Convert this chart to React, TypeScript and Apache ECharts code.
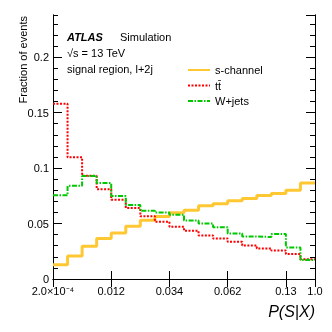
import React, { useEffect, useRef } from "react";
import * as echarts from "echarts";

const binCount = 18;
const xTickLabels: Record<number, string> = {
  0: "2.0×10⁻⁴",
  4: "0.012",
  8: "0.034",
  12: "0.062",
  16: "0.13",
  18: "1.0",
};
const yTickLabels = [0, 0.05, 0.1, 0.15, 0.2];
const seriesNames = ["s-channel", "tt̄", "W+jets"];
const sChannel = [0.0129, 0.0207, 0.0295, 0.0365, 0.0415, 0.0475, 0.053, 0.0563, 0.0598, 0.062, 0.066, 0.0678, 0.0705, 0.0726, 0.0752, 0.077, 0.08, 0.0865];
const ttbar = [0.158, 0.1098, 0.093, 0.081, 0.0715, 0.064, 0.0565, 0.0516, 0.047, 0.0435, 0.0393, 0.0366, 0.0336, 0.0303, 0.0276, 0.0258, 0.0225, 0.0177];
const wjets = [0.0754, 0.084, 0.0929, 0.0865, 0.0748, 0.0668, 0.0616, 0.06, 0.058, 0.0528, 0.05, 0.0467, 0.041, 0.0384, 0.0378, 0.0405, 0.0285, 0.0171];

const FONT = "'Liberation Sans', Arial, Helvetica, sans-serif";
const Y_MAX = 0.238;

function toSteps(vals: number[]) {
  const pts: number[][] = vals.map((v, i) => [i, v]);
  pts.push([binCount, vals[vals.length - 1]]);
  return pts;
}

export default function App() {
  const ref = useRef<HTMLDivElement>(null);
  useEffect(() => {
    if (!ref.current) return;
    const chart = echarts.init(ref.current, null, { renderer: "svg" });
    const axisLine = { show: true, lineStyle: { color: "#000", width: 1 } };
    const baseY = { type: "value", min: 0, max: Y_MAX, splitLine: { show: false }, axisLine };
    const yLabelFmt = (v: number) => {
      const hit = yTickLabels.find((t) => Math.abs(t - v) < 1e-6);
      return hit === undefined ? "" : String(hit);
    };
    chart.setOption({
      animation: false,
      grid: { left: 53, right: 17, top: 15, bottom: 53, containLabel: false },
      xAxis: [
        {
          type: "value", min: 0, max: binCount, interval: 4, position: "bottom",
          axisLine, splitLine: { show: false },
          axisTick: { inside: true, length: 8, lineStyle: { color: "#000" } },
          axisLabel: {
            margin: 6, fontSize: 11, color: "#000", fontFamily: FONT,
            showMinLabel: true, showMaxLabel: true,
            formatter: (v: number) => xTickLabels[Math.round(v)] ?? "",
          },
        },
        {
          type: "value", min: 0, max: binCount, interval: 4, position: "top",
          axisLine, splitLine: { show: false },
          axisTick: { inside: true, length: 8, lineStyle: { color: "#000" } },
          axisLabel: { show: false },
        },
      ],
      yAxis: [
        {
          ...baseY, interval: 0.05, position: "left",
          axisTick: { inside: true, length: 9, lineStyle: { color: "#000" } },
          axisLabel: { margin: 4, fontSize: 11, color: "#000", fontFamily: FONT, showMaxLabel: false, formatter: yLabelFmt },
        },
        {
          ...baseY, interval: 0.01, position: "left",
          axisTick: { inside: true, length: 5, lineStyle: { color: "#000" } },
          axisLabel: { show: false },
        },
        {
          ...baseY, interval: 0.05, position: "right",
          axisTick: { inside: true, length: 9, lineStyle: { color: "#000" } },
          axisLabel: { show: false },
        },
        {
          ...baseY, interval: 0.01, position: "right",
          axisTick: { inside: true, length: 5, lineStyle: { color: "#000" } },
          axisLabel: { show: false },
        },
      ],
      legend: {
        orient: "vertical", left: 187, top: 64.5, padding: 0,
        itemWidth: 22, itemHeight: 10, itemGap: 4.5,
        itemStyle: { opacity: 0 },
        textStyle: { fontSize: 11, fontFamily: FONT, color: "#000", lineHeight: 11 },
        data: seriesNames,
      },
      series: [
        {
          name: seriesNames[0], type: "line", step: "end", symbol: "none",
          data: toSteps(sChannel),
          lineStyle: { color: "#ffc832", width: 3 },
          itemStyle: { color: "#ffc832" },
        },
        {
          name: seriesNames[1], type: "line", step: "end", symbol: "none",
          data: toSteps(ttbar),
          lineStyle: { color: "#ff0000", width: 2, type: [2, 1.5] },
          itemStyle: { color: "#ff0000" },
        },
        {
          name: seriesNames[2], type: "line", step: "end", symbol: "none",
          data: toSteps(wjets),
          lineStyle: { color: "#00c800", width: 2, type: [5, 1.5, 1.5, 1.5] },
          itemStyle: { color: "#00c800" },
        },
      ],
      graphic: [
        { type: "text", x: 67, y: 36.5, style: { text: "ATLAS", font: `italic bold 11px ${FONT}`, fill: "#000", verticalAlign: "middle" } },
        { type: "text", x: 120, y: 36.5, style: { text: "Simulation", font: `11px ${FONT}`, fill: "#000", verticalAlign: "middle" } },
        { type: "text", x: 67, y: 52.5, style: { text: "√s = 13 TeV", font: `11px ${FONT}`, fill: "#000", verticalAlign: "middle" } },
        { type: "text", x: 67, y: 68.5, style: { text: "signal region, l+2j", font: `11px ${FONT}`, fill: "#000", verticalAlign: "middle" } },
        { type: "text", x: 23, y: 16, rotation: Math.PI / 2, style: { text: "Fraction of events", font: `11px ${FONT}`, fill: "#000", align: "right", verticalAlign: "middle" } },
        { type: "text", x: 315, y: 311.5, style: { text: "P(S|X)", font: `italic 16px ${FONT}`, fill: "#000", align: "right", verticalAlign: "middle" } },
      ],
    });
    return () => chart.dispose();
  }, []);
  return <div ref={ref} style={{ position: "fixed", left: 0, top: 0, width: 332, height: 332 }} />;
}
